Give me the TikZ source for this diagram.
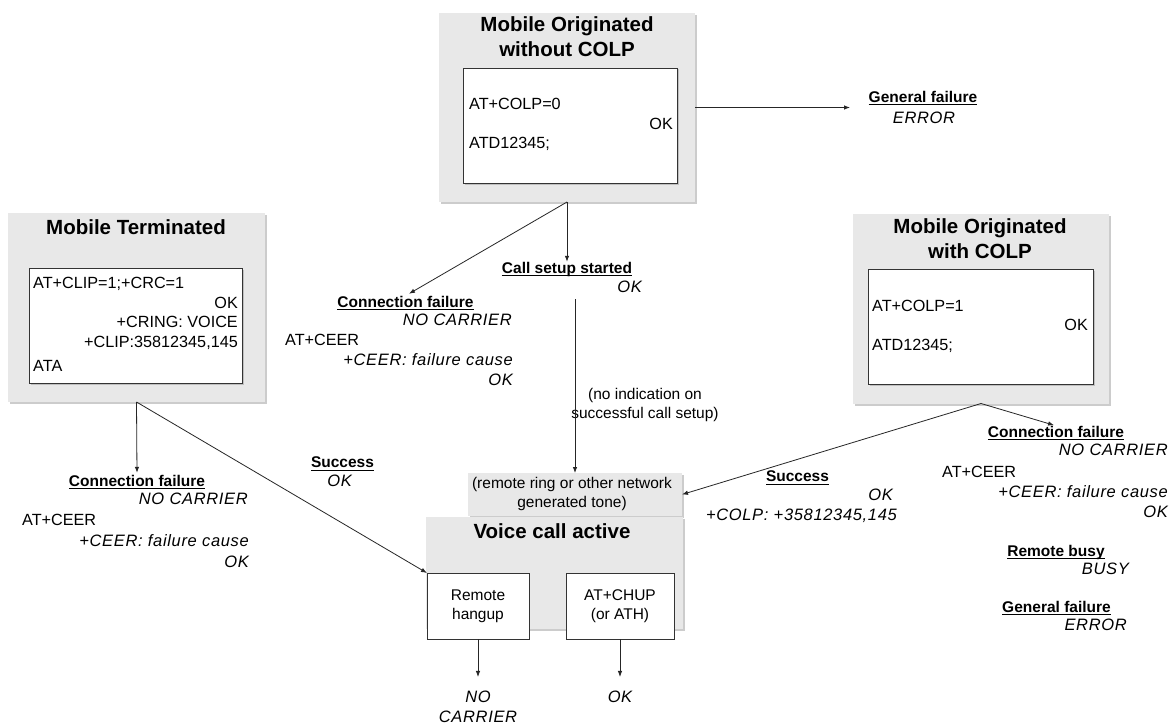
\documentclass[tikz,border=0pt]{standalone}
\usepackage{fontspec}
\setmainfont{Liberation Sans}
\newfontfamily\itfam{Liberation Sans}[LetterSpace=4]
\newcommand\ulx[1]{\setbox0=\hbox{#1}\rlap{\copy0}\raisebox{-3.2pt}{\rule{\wd0}{1.1pt}}}
\usetikzlibrary{arrows.meta,shadows}
\definecolor{boxgray}{HTML}{E8E8E8}
\begin{document}
\begin{tikzpicture}[x=1pt,y=-1pt,
  graybox/.style={fill=boxgray, draw=none, inner sep=0pt, outer sep=0pt,
    general shadow={fill=black!20, shadow xshift=2pt, shadow yshift=-2pt}},
  whitebox/.style={fill=white, draw=black!80, line width=0.8pt, inner sep=0pt, outer sep=0pt,
    general shadow={fill=black!25, shadow xshift=1.5pt, shadow yshift=-1.5pt}},
  plainbox/.style={fill=white, draw=black!80, line width=0.8pt, inner sep=0pt, outer sep=0pt, align=center,
    font=\fontsize{15.5}{19}\selectfont},
  body/.style={font=\fontsize{16.2}{20}\selectfont, inner sep=0pt},
  itx/.style={font=\fontsize{16.5}{20}\selectfont\itfam\itshape, inner sep=0pt},
  lbl/.style={font=\fontsize{15.5}{18}\selectfont\bfseries, inner sep=0pt, outer sep=0pt},
  ttl/.style={font=\fontsize{20.5}{25}\selectfont\bfseries, inner sep=0pt, align=center},
  small/.style={font=\fontsize{15.5}{19}\selectfont, inner sep=0pt, align=center},
  arr/.style={-{Latex[length=6pt,width=4.5pt]}, line width=0.8pt, draw=black!85},
]
\useasboundingbox (0,0) rectangle (1173,725);
\fill[white] (0,0) rectangle (1173,725);

% ---------- top box: Mobile Originated without COLP
\node[graybox, minimum width=256pt, minimum height=189pt] (top) at (567,107.5) {};
\node[ttl] (toptitle) at (567,37) {Mobile Originated\\without COLP};
\node[whitebox, minimum width=214pt, minimum height=115pt] (topin) at (570,125.5) {};
\node[body, anchor=mid west] (t1) at (469,107) {AT+COLP=0};
\node[body, anchor=mid east] (t2) at (673,127) {OK};
\node[body, anchor=mid west] (t3) at (469,146) {ATD12345;};

% ---------- left box: Mobile Terminated
\node[graybox, minimum width=257pt, minimum height=189pt] (mt) at (136.5,307.5) {};
\node[ttl] (mttitle) at (136,227) {Mobile Terminated};
\node[whitebox, minimum width=213pt, minimum height=115pt] (mtin) at (135.5,325.5) {};
\node[body, anchor=mid west] (m1) at (33,286) {AT+CLIP=1;+CRC=1};
\node[body, anchor=mid east] (m2) at (238,305.5) {OK};
\node[body, anchor=mid east] (m3) at (238,325) {+CRING: VOICE};
\node[body, anchor=mid east] (m4) at (238,345) {+CLIP:35812345,145};
\node[body, anchor=mid west] (m5) at (33,369) {ATA};

% ---------- right box: Mobile Originated with COLP
\node[graybox, minimum width=256pt, minimum height=190pt] (moc) at (981,308.5) {};
\node[ttl] (moctitle) at (980,239) {Mobile Originated\\with COLP};
\node[whitebox, minimum width=225pt, minimum height=115pt] (mocin) at (980.5,326.5) {};
\node[body, anchor=mid west] (r1) at (872,309) {AT+COLP=1};
\node[body, anchor=mid east] (r2) at (1088,328) {OK};
\node[body, anchor=mid west] (r3) at (872,348) {ATD12345;};

% ---------- top-right: General failure
\node[lbl] (gfT) at (923,98) {\ulx{General failure}};
\node[itx] (gfTe) at (924,118) {ERROR};
\coordinate (gfend) at (850,107.5);

% ---------- middle: call setup started
\node[lbl] (callsetup) at (567,269) {\ulx{Call setup started}};
\node[itx, anchor=mid east] (csok) at (642,290) {OK};

% ---------- middle: connection failure
\node[lbl] (cfM) at (405.5,303) {\ulx{Connection failure}};
\node[itx, anchor=mid east] (cfM1) at (512,323) {NO CARRIER};
\node[body, anchor=mid west] (cfM2) at (285,343) {AT+CEER};
\node[itx, anchor=mid east] (cfM3) at (513,363) {+CEER: failure cause};
\node[itx, anchor=mid east] (cfM4) at (513,383) {OK};

\node[small] (noind) at (645,404.5) {(no indication on\\successful call setup)};
\coordinate (vstart) at (575,299);

% ---------- left: connection failure
\node[lbl] (cfL) at (137,482) {\ulx{Connection failure}};
\node[itx, anchor=mid east] (cfL1) at (248,502) {NO CARRIER};
\node[body, anchor=mid west] (cfL2) at (22,523) {AT+CEER};
\node[itx, anchor=mid east] (cfL3) at (249,544) {+CEER: failure cause};
\node[itx, anchor=mid east] (cfL4) at (249,565) {OK};

% ---------- left: success
\node[lbl] (sucL) at (342.5,464) {\ulx{Success}};
\node[itx, anchor=mid east] (sucL1) at (352,484) {OK};

% ---------- right: success
\node[lbl] (sucR) at (797.5,478) {\ulx{Success}};
\node[itx, anchor=mid east] (sucR1) at (893,498) {OK};
\node[itx, anchor=mid east] (sucR2) at (897,518) {+COLP: +35812345,145};

% ---------- right: connection failure etc.
\node[lbl] (cfR) at (1056,433) {\ulx{Connection failure}};
\node[itx, anchor=mid east] (cfR1) at (1168,453) {NO CARRIER};
\node[body, anchor=mid west] (cfR2) at (942,475) {AT+CEER};
\node[itx, anchor=mid east] (cfR3) at (1168,495) {+CEER: failure cause};
\node[itx, anchor=mid east] (cfR4) at (1168,515) {OK};
\node[lbl] (rb) at (1056,552) {\ulx{Remote busy}};
\node[itx, anchor=mid east] (rb1) at (1129,572) {BUSY};
\node[lbl] (gfR) at (1056.5,608) {\ulx{General failure}};
\node[itx, anchor=mid east] (gfR1) at (1127,628) {ERROR};

% ---------- bottom: voice call active
\node[graybox, minimum width=214pt, minimum height=43pt] (tone) at (575,494.5) {};
\node[small] (tonetxt) at (572,494) {(remote ring or other network\\generated tone)};
\node[graybox, minimum width=257pt, minimum height=112pt] (voice) at (554.5,573) {};
\node[ttl] (voicetitle) at (552,531) {Voice call active};
\node[plainbox, minimum width=102pt, minimum height=66pt] (hangup) at (478,606) {Remote\\hangup};
\node[plainbox, minimum width=108pt, minimum height=66pt] (chup) at (620,606) {AT+CHUP\\(or ATH)};
\node[itx, align=center] (nc) at (478,707) {NO\\CARRIER};
\node[itx] (okc) at (620,697) {OK};

% ---------- connectors
\draw[arr] (top.south) -- (callsetup.north);
\draw[arr, shorten >=4pt] (top.south) -- (cfM.north);
\draw[arr] (top.east) -- (gfend);
\draw[arr, shorten >=2pt] (mt.south) -- (cfL.north);
\draw[arr] (mt.south) -- (hangup.north west);
\draw[arr, shorten >=2pt] (moc.south) -- (cfR.north);
\draw[arr] (moc.south) -- (tone.east);
\draw[arr] (vstart) -- (tone.north);
\draw[arr, shorten >=14pt] (hangup.south) -- (nc.north);
\draw[arr, shorten >=14pt] (chup.south) -- (okc.north);
\end{tikzpicture}
\end{document}
